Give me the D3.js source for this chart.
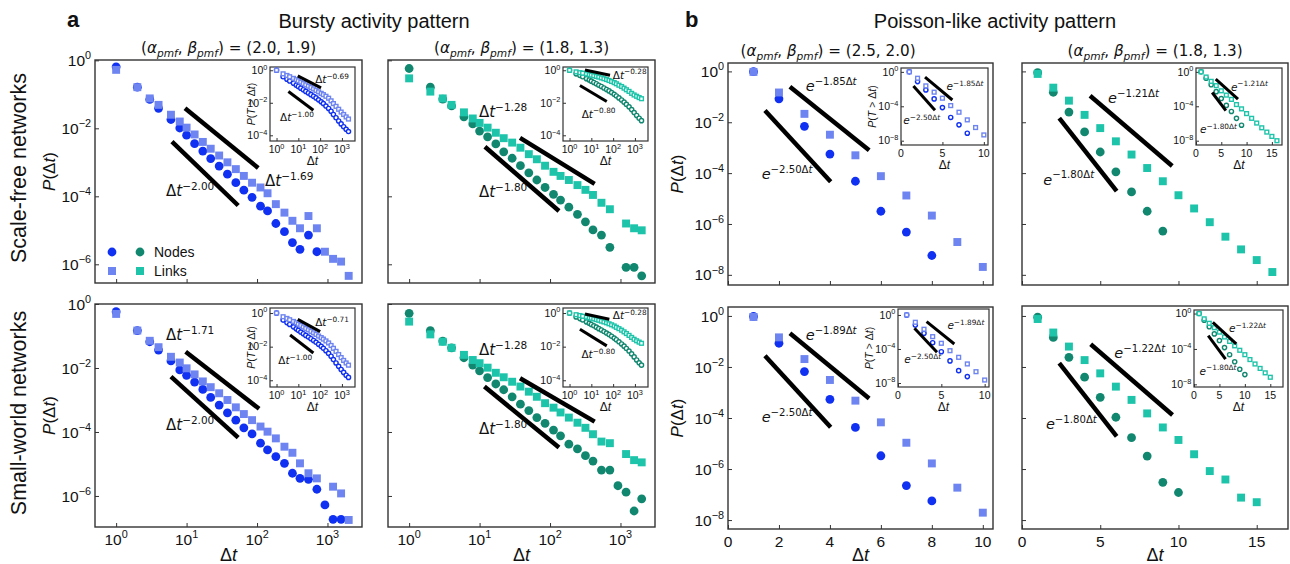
<!DOCTYPE html>
<html>
<head>
<meta charset="utf-8">
<script src="https://cdn.jsdelivr.net/npm/d3@7"></script>
<style>
  body { margin: 0; background: #fff; }
  text { font-family: "Liberation Sans", Arial, sans-serif; fill: #111; }
  .m { font-family: "DejaVu Sans", sans-serif; }
</style>
</head>
<body>
<svg id="chart" width="1290" height="564"></svg>
<script>
// ---------- data (values are log10 of the probability) ----------
const logBins = [1, 2, 3, 4, 6, 8, 10, 13, 17, 22, 29, 38, 50, 65, 85, 112, 141, 185, 245, 318, 407, 537, 707, 920, 1200, 1560, 2000];
const steps = [1, 2, 3, 4, 5, 6, 7, 8, 9, 10, 11, 12, 13, 14, 15, 16];

// bursty, scale-free
const sfBurstyNodesA = [-0.19, -0.79, -1.15, -1.41, -1.74, -1.99, -2.2, -2.45, -2.67, -2.89, -3.11, -3.35, -3.6, -3.82, -4.03, -4.29, -4.43, -4.8, -5.04, -5.36, -5.56, -5.14, -5.63, null, null, null, null];
const sfBurstyLinksA = [-0.28, -0.79, -1.12, -1.31, -1.6, -1.8, -1.98, -2.18, -2.4, -2.6, -2.8, -3.0, -3.2, -3.4, -3.6, -3.74, -3.91, -4.23, -4.48, -4.72, -4.94, -4.58, -4.94, -5.63, -5.84, -5.92, -6.34];
const sfBurstyNodesB = [-0.24, -0.79, -1.14, -1.34, -1.66, -1.87, -2.08, -2.25, -2.46, -2.69, -2.88, -3.1, -3.31, -3.52, -3.74, -3.94, -4.11, -4.32, -4.53, -4.75, -4.99, -5.14, -5.5, null, -6.09, -6.09, -6.34];
const sfBurstyLinksB = [-0.53, -0.92, -1.12, -1.31, -1.53, -1.71, -1.84, -1.98, -2.13, -2.29, -2.42, -2.57, -2.76, -2.91, -3.1, -3.28, -3.4, -3.52, -3.67, -3.81, -3.96, -4.19, -4.38, null, -4.8, -4.94, -5.0];
// bursty, small-world
const swBurstyNodesA = [-0.24, -0.83, -1.18, -1.44, -1.78, -2.06, -2.23, -2.44, -2.67, -2.92, -3.16, -3.4, -3.63, -3.87, -4.06, -4.35, -4.56, -4.77, -4.98, -5.29, -5.45, -5.48, -5.79, -6.28, -6.73, -6.73, null];
const swBurstyLinksA = [-0.31, -0.83, -1.15, -1.35, -1.65, -1.83, -2.01, -2.2, -2.42, -2.6, -2.79, -3.0, -3.23, -3.44, -3.63, -3.83, -3.99, -4.2, -4.46, -4.65, -4.98, -5.29, -5.45, null, -5.71, -5.92, -6.75];
const swBurstyNodesB = [-0.29, -0.83, -1.16, -1.37, -1.68, -1.91, -2.09, -2.3, -2.5, -2.68, -2.9, -3.13, -3.33, -3.55, -3.73, -3.94, -4.12, -4.38, -4.53, -4.74, -4.91, -5.19, -5.19, -5.68, -5.88, -6.47, -6.09];
const swBurstyLinksB = [-0.55, -0.95, -1.18, -1.37, -1.59, -1.75, -1.85, -1.99, -2.15, -2.29, -2.43, -2.58, -2.74, -2.9, -3.1, -3.24, -3.39, -3.55, -3.71, -3.87, -4.07, -4.3, -4.35, null, -4.69, -4.88, -4.95];
// poisson-like
const sfPoissonNodesA = [-0.01, -1.08, -2.16, -3.25, -4.32, -5.5, -6.32, -7.24];
const sfPoissonLinksA = [-0.02, -0.83, -1.67, -2.49, -3.3, -4.12, -4.88, -5.67, -6.71, -7.69];
const sfPoissonNodesB = [-0.05, -0.82, -1.6, -2.38, -3.17, -3.95, -4.74, -5.5, -6.28];
const sfPoissonLinksB = [-0.1, -0.64, -1.15, -1.71, -2.23, -2.75, -3.27, -3.8, -4.32, -4.87, -5.39, -5.93, -6.5, -7.0, -7.42, -7.89];
const swPoissonNodesA = [-0.02, -1.07, -2.18, -3.27, -4.37, -5.48, -6.65, -7.25];
const swPoissonLinksA = [-0.04, -0.84, -1.69, -2.51, -3.32, -4.17, -4.97, -5.78, -6.73, -7.71];
const swPoissonNodesB = [-0.05, -0.84, -1.62, -2.4, -3.19, -3.97, -4.77, -5.49, -6.52, -6.92];
const swPoissonLinksB = [-0.12, -0.65, -1.2, -1.73, -2.25, -2.77, -3.29, -3.82, -4.37, -4.86, -5.42, -6.08, -6.41, -7.12, -7.3];

// insets: P(T > dt)
const sfBurstyCcdfNodesA = [0, -0.4, -0.55, -0.66, -0.8, -0.92, -1.0, -1.1, -1.2, -1.3, -1.4, -1.5, -1.6, -1.7, -1.82, -1.94, -2.05, -2.2, -2.35, -2.52, -2.72, -2.92, -3.12, -3.3, -3.47, -3.63, -3.77];
const sfBurstyCcdfLinksA = [0, -0.22, -0.32, -0.4, -0.5, -0.58, -0.65, -0.73, -0.82, -0.9, -0.98, -1.06, -1.15, -1.24, -1.33, -1.42, -1.5, -1.6, -1.72, -1.88, -2.05, -2.22, -2.4, -2.57, -2.72, -2.87, -3.0];
const sfBurstyCcdfNodesB = [0, -0.22, -0.32, -0.4, -0.52, -0.6, -0.67, -0.75, -0.83, -0.92, -1.0, -1.09, -1.18, -1.27, -1.37, -1.48, -1.58, -1.7, -1.83, -1.96, -2.1, -2.25, -2.42, -2.6, -2.78, -2.95, -3.1];
const sfBurstyCcdfLinksB = [0, -0.1, -0.15, -0.18, -0.23, -0.27, -0.3, -0.34, -0.38, -0.42, -0.47, -0.52, -0.57, -0.63, -0.69, -0.76, -0.83, -0.92, -1.0, -1.1, -1.2, -1.3, -1.42, -1.52, -1.6, -1.68, -1.75];
const swBurstyCcdfNodesA = [0, -0.42, -0.57, -0.68, -0.82, -0.94, -1.03, -1.13, -1.23, -1.33, -1.43, -1.53, -1.63, -1.74, -1.86, -1.98, -2.1, -2.24, -2.4, -2.57, -2.77, -2.97, -3.17, -3.36, -3.53, -3.7, -3.83];
const swBurstyCcdfLinksA = [0, -0.22, -0.32, -0.4, -0.5, -0.58, -0.66, -0.74, -0.83, -0.92, -1.0, -1.09, -1.18, -1.27, -1.37, -1.46, -1.55, -1.66, -1.78, -1.93, -2.1, -2.28, -2.47, -2.65, -2.82, -2.97, -3.1];
const swBurstyCcdfNodesB = [0, -0.23, -0.33, -0.41, -0.53, -0.61, -0.68, -0.76, -0.84, -0.93, -1.01, -1.1, -1.19, -1.28, -1.38, -1.49, -1.59, -1.71, -1.84, -1.97, -2.11, -2.26, -2.43, -2.61, -2.79, -2.96, -3.1];
const swBurstyCcdfLinksB = [0, -0.1, -0.15, -0.19, -0.24, -0.28, -0.31, -0.35, -0.39, -0.43, -0.48, -0.53, -0.58, -0.64, -0.7, -0.77, -0.85, -0.93, -1.02, -1.12, -1.22, -1.33, -1.45, -1.56, -1.65, -1.73, -1.8];
const sfPoissonCcdfNodesA = [0, -1.13, -2.1, -3.14, -4.15, -5.3, -6.16, -7.13];
const sfPoissonCcdfLinksA = [0, -0.74, -1.63, -2.36, -3.06, -3.92, -4.69, -5.58, -6.47, -7.33];
const sfPoissonCcdfNodesB = [0, -0.75, -1.5, -2.3, -3.1, -3.9, -4.6, -5.4, -6.2];
const sfPoissonCcdfLinksB = [0, -0.6, -1.1, -1.6, -2.2, -2.7, -3.2, -3.8, -4.3, -4.85, -5.4, -5.95, -6.5, -7.0, -7.5, -8.0];
const swPoissonCcdfNodesA = [0, -1.18, -2.16, -3.26, -4.32, -5.4, -6.55, -7.25];
const swPoissonCcdfLinksA = [0, -0.86, -1.68, -2.55, -3.33, -4.2, -4.98, -5.76, -6.67, -7.65];
const swPoissonCcdfNodesB = [0, -0.75, -1.5, -2.3, -3.05, -3.85, -4.65, -5.45, -6.3, -6.9];
const swPoissonCcdfLinksB = [0, -0.6, -1.1, -1.6, -2.1, -2.65, -3.15, -3.65, -4.15, -4.65, -5.2, -5.7, -6.2, -6.7, -7.2];

const BLUE = { node: '#1030f2', link: '#6e84f0' };
const TEAL = { node: '#11876f', link: '#1ec4aa' };

const svg = d3.select('#chart');
const E = v => Math.pow(10, v);

function series(xs, logs) {
  return logs.map((v, i) => ({ x: xs[i], y: v })).filter(d => d.y !== null).map(d => ({ x: d.x, y: E(d.y) }));
}

// text with italic / superscript / subscript parts
function rich(sel, parts, size, cls) {
  const t = sel.append('text').attr('font-size', size);
  if (cls) t.attr('class', cls);
  let shift = 0;
  parts.forEach(p => {
    const target = p.sup ? -0.42 : p.sub ? 0.28 : 0;
    const sp = t.append('tspan').text(p.t).attr('font-size', (p.sup || p.sub) ? size * 0.7 : size);
    if (target !== shift) { sp.attr('dy', (target - shift) * size); shift = target; }
    if (p.i) sp.attr('font-style', 'italic');
  });
  return t;
}
const pow10 = k => [{ t: '10' }, { t: k < 0 ? '\u2212' + (-k) : String(k), sup: true }];
const dtPow = s => [{ t: '\u0394' }, { t: 't', i: true }, { t: '\u2212' + s, sup: true }];
const eExp = s => [{ t: 'e', i: true }, { t: '\u2212' + s + '\u0394', sup: true }, { t: 't', i: true, sup: true }];

function box(cfg) {
  const g = svg.append('g');
  const x = (cfg.xlog ? d3.scaleLog() : d3.scaleLinear()).domain(cfg.xd).range([cfg.x0, cfg.x1]);
  const y = d3.scaleLog().domain(cfg.yd).range([cfg.y0, cfg.y1]);
  g.append('rect').attr('x', cfg.x0).attr('y', cfg.y0)
    .attr('width', cfg.x1 - cfg.x0).attr('height', cfg.y1 - cfg.y0)
    .attr('fill', '#fff');
  const ax = g.append('g').attr('transform', `translate(0,${cfg.y1})`)
    .call(d3.axisBottom(x).tickValues(cfg.xt).tickSize(-cfg.tl).tickFormat(''));
  const ay = g.append('g').attr('transform', `translate(${cfg.x0},0)`)
    .call(d3.axisLeft(y).tickValues(cfg.yt).tickSize(-cfg.tl).tickFormat(''));
  [ax, ay].forEach(a => { a.select('.domain').remove(); a.selectAll('line').attr('stroke', '#333'); });
  g.append('rect').attr('x', cfg.x0).attr('y', cfg.y0)
    .attr('width', cfg.x1 - cfg.x0).attr('height', cfg.y1 - cfg.y0)
    .attr('fill', 'none').attr('stroke', '#333').attr('stroke-width', cfg.sw);
  if (cfg.ylab) {
    cfg.yt.forEach(v => {
      rich(g, pow10(Math.round(Math.log10(v))), cfg.fs)
        .attr('x', cfg.x0 - cfg.fs * 0.25).attr('y', y(v) + cfg.fs * 0.36).attr('text-anchor', 'end');
    });
  }
  if (cfg.xlab) {
    cfg.xt.forEach(v => {
      const parts = cfg.xlog ? pow10(Math.round(Math.log10(v))) : [{ t: String(v) }];
      rich(g, parts, cfg.fs).attr('x', x(v)).attr('y', cfg.y1 + cfg.fs * 1.15).attr('text-anchor', 'middle');
    });
  }
  return { g, x, y };
}

function guide(b, d, w, fs) {
  const y2 = d.type === 'pow' ? d.y1 - d.k * Math.log10(d.x2 / d.x1) : d.y1 - d.k * (d.x2 - d.x1) / Math.LN10;
  b.g.append('line')
    .attr('x1', b.x(d.x1)).attr('y1', b.y(E(d.y1)))
    .attr('x2', b.x(d.x2)).attr('y2', b.y(E(y2)))
    .attr('stroke', '#000').attr('stroke-width', w);
  rich(b.g, d.type === 'pow' ? dtPow(d.lab) : eExp(d.lab), fs, 'm')
    .attr('x', b.x(d.lx)).attr('y', b.y(E(d.ly)));
}

function markers(b, nodes, links, col, r, open) {
  b.g.append('g').selectAll('circle').data(nodes).join('circle')
    .attr('cx', d => b.x(d.x)).attr('cy', d => b.y(d.y)).attr('r', r)
    .attr('fill', open ? '#fff' : col.node).attr('stroke', open ? col.node : 'none').attr('stroke-width', open ? 1.4 : 0);
  const s = r * 1.8;
  b.g.append('g').selectAll('rect').data(links).join('rect')
    .attr('x', d => b.x(d.x) - s / 2).attr('y', d => b.y(d.y) - s / 2).attr('width', s).attr('height', s)
    .attr('fill', open ? '#fff' : col.link).attr('stroke', open ? col.link : 'none').attr('stroke-width', open ? 1.4 : 0);
}

// ---------- panel table ----------
const panels = [
  { f: [95, 362, 60, 283], log: true, yd: [E(0.01), E(-6.55)], col: BLUE, ylab: true, xlab: false, ylabel: true,
    nodes: series(logBins, sfBurstyNodesA), links: series(logBins, sfBurstyLinksA),
    guides: [{ type: 'pow', x1: 9.5, x2: 104, y1: -1.41, k: 1.69, lab: '1.69', lx: 130, ly: -3.7 },
             { type: 'pow', x1: 6.2, x2: 54, y1: -2.39, k: 2.0, lab: '2.00', lx: 5.1, ly: -3.99 }],
    ins: { r: [-92, -7, 7, 81], yd: [E(0.2), E(-4.35)], ylabel: true,
      nodes: series(logBins, sfBurstyCcdfNodesA), links: series(logBins, sfBurstyCcdfLinksA),
      guides: [{ type: 'pow', x1: 9.4, x2: 110, y1: -0.35, k: 0.69, lab: '0.69', lx: 59, ly: -0.78 },
               { type: 'pow', x1: 3.5, x2: 49, y1: -1.31, k: 1.0, lab: '1.00', lx: 1.45, ly: -3.15 }] },
    title: '(2.0, 1.9)' },
  { f: [388, 655, 60, 283], log: true, yd: [E(0.01), E(-6.55)], col: TEAL, ylab: false, xlab: false,
    nodes: series(logBins, sfBurstyNodesB), links: series(logBins, sfBurstyLinksB),
    guides: [{ type: 'pow', x1: 37.5, x2: 430, y1: -2.28, k: 1.28, lab: '1.28', lx: 9.8, ly: -1.67 },
             { type: 'pow', x1: 11.9, x2: 134, y1: -2.54, k: 1.8, lab: '1.80', lx: 9.8, ly: -4.02 }],
    ins: { r: [-92, -7, 7, 81], yd: [E(0.2), E(-4.35)],
      nodes: series(logBins, sfBurstyCcdfNodesB), links: series(logBins, sfBurstyCcdfLinksB),
      guides: [{ type: 'pow', x1: 5.1, x2: 72, y1: 0.02, k: 0.28, lab: '0.28', lx: 96, ly: -0.53 },
               { type: 'pow', x1: 3.0, x2: 51, y1: -0.94, k: 0.8, lab: '0.80', lx: 3.6, ly: -2.93 }] },
    title: '(1.8, 1.3)' },
  { f: [728, 993, 63, 285], log: false, xd: [0, 10.4], xt: [0, 2, 4, 6, 8, 10], yd: [E(0.33), E(-8.4)], col: BLUE, ylab: true, xlab: false, ylabel: true,
    nodes: series(steps, sfPoissonNodesA), links: series(steps, sfPoissonLinksA),
    guides: [{ type: 'exp', x1: 2.43, x2: 5.54, y1: -0.6, k: 1.85, lab: '1.85', lx: 3.05, ly: -0.76 },
             { type: 'exp', x1: 1.45, x2: 4.03, y1: -1.54, k: 2.5, lab: '2.50', lx: 1.32, ly: -4.25 }],
    ins: { r: [-92, -5, 5, 82], xd: [0, 10.5], xt: [0, 5, 10], yd: [E(0.45), E(-8.5)], ylabel: true,
      nodes: series(steps, sfPoissonCcdfNodesA), links: series(steps, sfPoissonCcdfLinksA),
      guides: [{ type: 'exp', x1: 2.9, x2: 6.2, y1: -0.62, k: 1.85, lab: '1.85', lx: 5.5, ly: -2.1 },
               { type: 'exp', x1: 1.5, x2: 4.1, y1: -1.63, k: 2.5, lab: '2.50', lx: 0.28, ly: -6.05 }] },
    title: '(2.5, 2.0)', tx: 828 },
  { f: [1022, 1288, 63, 285], log: false, xd: [0, 17], xt: [0, 5, 10, 15], yd: [E(0.33), E(-8.4)], col: TEAL, ylab: false, xlab: false,
    nodes: series(steps, sfPoissonNodesB), links: series(steps, sfPoissonLinksB),
    guides: [{ type: 'exp', x1: 4.35, x2: 9.6, y1: -0.96, k: 1.21, lab: '1.21', lx: 5.5, ly: -1.24 },
             { type: 'exp', x1: 2.38, x2: 6.05, y1: -1.84, k: 1.8, lab: '1.80', lx: 1.36, ly: -4.45 }],
    ins: { r: [-92, -6, 5, 82], xd: [0, 17], xt: [0, 5, 10, 15], yd: [E(0.45), E(-8.5)],
      nodes: series(steps, sfPoissonCcdfNodesB), links: series(steps, sfPoissonCcdfLinksB),
      guides: [{ type: 'exp', x1: 3.9, x2: 8.3, y1: -0.85, k: 1.21, lab: '1.21', lx: 6.9, ly: -2.2 },
               { type: 'exp', x1: 3.2, x2: 5.9, y1: -2.4, k: 1.8, lab: '1.80', lx: 0.8, ly: -7.1 }] },
    title: '(1.8, 1.3)' },
  { f: [95, 362, 304, 527], log: true, yd: [E(0), E(-6.97)], col: BLUE, ylab: true, xlab: true, ylabel: true,
    nodes: series(logBins, swBurstyNodesA), links: series(logBins, swBurstyLinksA),
    guides: [{ type: 'pow', x1: 9.7, x2: 107, y1: -1.49, k: 1.71, lab: '1.71', lx: 5.1, ly: -1.13 },
             { type: 'pow', x1: 6.0, x2: 54, y1: -2.27, k: 2.0, lab: '2.00', lx: 5.1, ly: -3.94 }],
    ins: { r: [-92, -7, 4, 83], yd: [E(0.3), E(-4.4)], ylabel: true,
      nodes: series(logBins, swBurstyCcdfNodesA), links: series(logBins, swBurstyCcdfLinksA),
      guides: [{ type: 'pow', x1: 9.4, x2: 100, y1: -0.375, k: 0.71, lab: '0.71', lx: 59, ly: -0.77 },
               { type: 'pow', x1: 4.2, x2: 49, y1: -1.31, k: 1.0, lab: '1.00', lx: 1.2, ly: -3.04 }] } },
  { f: [388, 655, 304, 527], log: true, yd: [E(0), E(-6.97)], col: TEAL, ylab: false, xlab: true,
    nodes: series(logBins, swBurstyNodesB), links: series(logBins, swBurstyLinksB),
    guides: [{ type: 'pow', x1: 37.5, x2: 430, y1: -2.32, k: 1.28, lab: '1.28', lx: 9.8, ly: -1.59 },
             { type: 'pow', x1: 11.7, x2: 134, y1: -2.58, k: 1.8, lab: '1.80', lx: 9.8, ly: -4.06 }],
    ins: { r: [-92, -7, 4, 83], yd: [E(0.3), E(-4.4)],
      nodes: series(logBins, swBurstyCcdfNodesB), links: series(logBins, swBurstyCcdfLinksB),
      guides: [{ type: 'pow', x1: 5.1, x2: 67, y1: -0.06, k: 0.28, lab: '0.28', lx: 96, ly: -0.36 },
               { type: 'pow', x1: 3.0, x2: 51, y1: -0.97, k: 0.8, lab: '0.80', lx: 3.5, ly: -2.68 }] } },
  { f: [728, 993, 307, 529], log: false, xd: [0, 10.4], xt: [0, 2, 4, 6, 8, 10], yd: [E(0.35), E(-8.35)], col: BLUE, ylab: true, xlab: true, ylabel: true,
    nodes: series(steps, swPoissonNodesA), links: series(steps, swPoissonLinksA),
    guides: [{ type: 'exp', x1: 2.43, x2: 5.54, y1: -0.68, k: 1.89, lab: '1.89', lx: 3.05, ly: -0.94 },
             { type: 'exp', x1: 1.45, x2: 4.03, y1: -1.56, k: 2.5, lab: '2.50', lx: 1.32, ly: -4.16 }],
    ins: { r: [-95, -4, 2, 80], xd: [0, 10.5], xt: [0, 5, 10], yd: [E(0.7), E(-8.47)], ylabel: true,
      nodes: series(steps, swPoissonCcdfNodesA), links: series(steps, swPoissonCcdfLinksA),
      guides: [{ type: 'exp', x1: 3.3, x2: 6.5, y1: -0.79, k: 1.89, lab: '1.89', lx: 5.7, ly: -1.68 },
               { type: 'exp', x1: 1.9, x2: 4.5, y1: -1.56, k: 2.5, lab: '2.50', lx: 0.73, ly: -5.7 }] } },
  { f: [1022, 1288, 306, 529], log: false, xd: [0, 17], xt: [0, 5, 10, 15], yd: [E(0.39), E(-8.35)], col: TEAL, ylab: false, xlab: true,
    nodes: series(steps, swPoissonNodesB), links: series(steps, swPoissonLinksB),
    guides: [{ type: 'exp', x1: 4.39, x2: 9.62, y1: -1.11, k: 1.22, lab: '1.22', lx: 5.9, ly: -1.65 },
             { type: 'exp', x1: 2.38, x2: 6.05, y1: -1.85, k: 1.8, lab: '1.80', lx: 1.53, ly: -4.43 }],
    ins: { r: [-94, -5, 4, 81], xd: [0, 17.5], xt: [0, 5, 10, 15], yd: [E(0.4), E(-8.3)],
      nodes: series(steps, swPoissonCcdfNodesB), links: series(steps, swPoissonCcdfLinksB),
      guides: [{ type: 'exp', x1: 3.7, x2: 8.3, y1: -1.0, k: 1.22, lab: '1.22', lx: 6.9, ly: -2.1 },
               { type: 'exp', x1: 2.8, x2: 6.2, y1: -2.5, k: 1.8, lab: '1.80', lx: 1.1, ly: -6.9 }] } }
];

const logXd = [E(-0.3), E(3.49)];
const logXt = [1, 10, 100, 1000];

panels.forEach(p => {
  const [x0, x1, y0, y1] = p.f;
  const isB = !p.log;
  const b = box({ x0, x1, y0, y1, xlog: p.log, xd: p.log ? logXd : p.xd, xt: p.log ? logXt : p.xt,
    yd: p.yd, yt: isB ? [1, 1e-2, 1e-4, 1e-6, 1e-8] : [1, 1e-2, 1e-4, 1e-6],
    tl: 4, sw: 1.4, fs: 15.5, ylab: p.ylab, xlab: p.xlab });
  markers(b, p.nodes, p.links, p.col, 4.4, false);
  p.guides.forEach(d => guide(b, d, 4.5, isB ? 14.5 : 15));

  if (p.ylabel) {
    rich(svg, [{ t: 'P', i: true }, { t: '(\u0394' }, { t: 't', i: true }, { t: ')' }], 17)
      .attr('text-anchor', 'middle')
      .attr('transform', `translate(${x0 - (isB ? 45 : 40)},${(y0 + y1) / 2}) rotate(-90)`);
  }
  if (p.xlab) {
    rich(svg, [{ t: '\u0394' }, { t: 't', i: true }], 18)
      .attr('text-anchor', 'middle').attr('x', (x0 + x1) / 2).attr('y', 561);
  }
  if (p.title) {
    rich(svg, [{ t: '(' }, { t: '\u03b1', i: true }, { t: 'pmf', i: true, sub: true }, { t: ', ' },
      { t: '\u03b2', i: true }, { t: 'pmf', i: true, sub: true }, { t: ') = ' + p.title }], 15.2, 'm')
      .attr('text-anchor', 'middle').attr('x', p.tx || (x0 + x1) / 2).attr('y', isB ? 56 : 53);
  }

  // inset
  const q = p.ins;
  const ib = box({ x0: x1 + q.r[0], x1: x1 + q.r[1], y0: y0 + q.r[2], y1: y0 + q.r[3],
    xlog: p.log, xd: p.log ? [E(-0.3), E(3.6)] : q.xd, xt: p.log ? logXt : q.xt,
    yd: q.yd, yt: isB ? [1, 1e-4, 1e-8] : [1, 1e-2, 1e-4],
    tl: 3, sw: 1.2, fs: 10.5, ylab: true, xlab: true });
  markers(ib, q.nodes, q.links, p.col, 2.1, true);
  q.guides.forEach(d => guide(ib, d, 3, 10.5));
  rich(ib.g, [{ t: '\u0394' }, { t: 't', i: true }], 12)
    .attr('text-anchor', 'middle').attr('x', (ib.x.range()[0] + ib.x.range()[1]) / 2).attr('y', y0 + q.r[3] + 24);
  if (q.ylabel) {
    const ix0 = x1 + q.r[0];
    rich(ib.g, [{ t: 'P', i: true }, { t: '(' }, { t: 'T', i: true }, { t: ' > \u0394' }, { t: 't', i: true }, { t: ')' }], 10.5)
      .attr('text-anchor', 'middle')
      .attr('transform', `translate(${ix0 - (isB ? 25 : 15)},${y0 + (q.r[2] + q.r[3]) / 2}) rotate(-90)`);
  }
});

// legend (inside first panel)
const leg = svg.append('g');
[[112, 252, 'node', BLUE], [140, 252, 'node', TEAL], [112, 271, 'link', BLUE], [140, 271, 'link', TEAL]].forEach(([cx, cy, kind, col]) => {
  if (kind === 'node') leg.append('circle').attr('cx', cx).attr('cy', cy).attr('r', 4.4).attr('fill', col.node);
  else leg.append('rect').attr('x', cx - 4).attr('y', cy - 4).attr('width', 8).attr('height', 8).attr('fill', col.link);
});
leg.append('text').attr('x', 154).attr('y', 257).attr('font-size', 14).text('Nodes');
leg.append('text').attr('x', 154).attr('y', 276).attr('font-size', 14).text('Links');

// headers and row labels
svg.append('text').attr('x', 67).attr('y', 27).attr('font-size', 22).attr('font-weight', 'bold').text('a');
svg.append('text').attr('x', 685).attr('y', 27).attr('font-size', 22).attr('font-weight', 'bold').text('b');
svg.append('text').attr('x', 374).attr('y', 28).attr('font-size', 20).attr('text-anchor', 'middle').text('Bursty activity pattern');
svg.append('text').attr('x', 995).attr('y', 28).attr('font-size', 20).attr('text-anchor', 'middle').text('Poisson-like activity pattern');
svg.append('text').attr('font-size', 21.5).attr('text-anchor', 'middle')
  .attr('transform', 'translate(26,168) rotate(-90)').text('Scale-free networks');
svg.append('text').attr('font-size', 21.5).attr('text-anchor', 'middle')
  .attr('transform', 'translate(26,413) rotate(-90)').text('Small-world networks');
</script>
</body>
</html>
